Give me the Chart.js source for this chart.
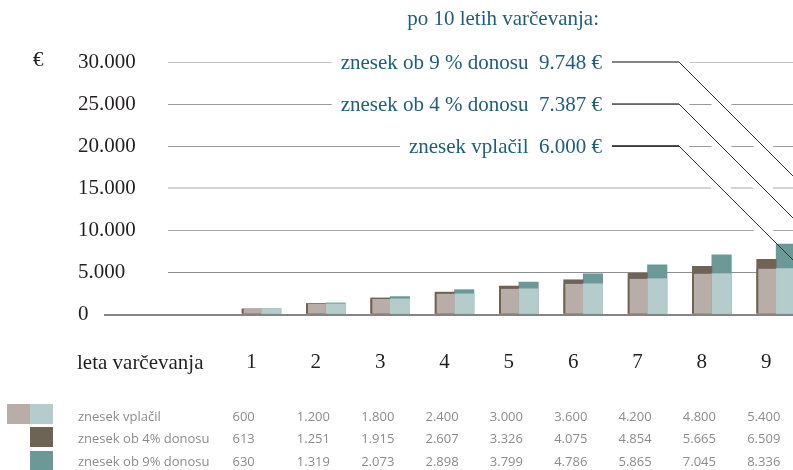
<!DOCTYPE html>
<html>
<head>
<meta charset="utf-8">
<script src="https://cdn.jsdelivr.net/npm/chart.js@4.4.0/dist/chart.umd.min.js"></script>
<style>
  html, body { margin: 0; padding: 0; background: #fff; overflow: hidden; }
  #wrap { position: relative; width: 900px; height: 470px; }
</style>
</head>
<body>
<div id="wrap"><canvas id="myChart"></canvas></div>
<script>
const years = [1, 2, 3, 4, 5, 6, 7, 8, 9, 10];
const paidIn = [600, 1200, 1800, 2400, 3000, 3600, 4200, 4800, 5400, 6000];
const at4 = [613, 1251, 1915, 2607, 3326, 4075, 4854, 5665, 6509, 7387];
const at9 = [630, 1319, 2073, 2898, 3799, 4786, 5865, 7045, 8336, 9748];
const yTicks = [0, 5000, 10000, 15000, 20000, 25000, 30000];
const seriesNames = ['znesek vplačil', 'znesek ob 4% donosu', 'znesek ob 9% donosu'];
const noteNames = ['znesek vplačil', 'znesek ob 4 % donosu', 'znesek ob 9 % donosu'];

const beige = '#b8aea7', paleTeal = '#b4cccc', brown = '#6f6356', teal = '#6a9998';
const ink = '#231f20', blue = '#1e6079', tableGrey = '#8c8c8c';
const serif = '"Liberation Serif", serif';

const gridColors = { 0: 'rgba(0,0,0,0)', 5000: '#8f8f8f', 10000: '#a3a3a3', 15000: '#d4d4d4',
  20000: '#999999', 25000: '#999999', 30000: '#c6c6c6' };

const fmt = v => String(v).replace(/\B(?=(\d{3})+(?!\d))/g, '.');

const last = years.length - 1;
// callouts: label sits on a gridline, line runs down to the year-10 bar
const notes = [
  { text: noteNames[2], value: at9[last], level: yTicks[6], seg: '#858585', segW: 2 },
  { text: noteNames[1], value: at4[last], level: yTicks[5], seg: '#555555', segW: 1.5 },
  { text: noteNames[0], value: paidIn[last], level: yTicks[4], seg: '#1a1a1a', segW: 1.5 }
];
const LABEL_RIGHT = 602, ELBOW = 679;

const extras = {
  id: 'extras',
  beforeDatasetsDraw(chart) {
    const ctx = chart.ctx, ys = chart.scales.y;
    ctx.save();
    ctx.strokeStyle = '#fff';
    ctx.lineWidth = 14;
    notes.forEach(n => {
      const y0 = ys.getPixelForValue(n.level), y1 = ys.getPixelForValue(n.value);
      ctx.beginPath();
      ctx.moveTo(ELBOW, y0);
      ctx.lineTo(ELBOW + (y1 - y0), y1);
      ctx.stroke();
    });
    ctx.restore();
  },
  afterDatasetsDraw(chart) {
    const ctx = chart.ctx, xs = chart.scales.x, ys = chart.scales.y;
    ctx.save();
    // zero line
    const y0 = Math.round(ys.getPixelForValue(0));
    ctx.strokeStyle = '#858585';
    ctx.lineWidth = 2;
    ctx.beginPath();
    ctx.moveTo(104, y0 + 1);
    ctx.lineTo(chart.chartArea.right, y0 + 1);
    ctx.stroke();

    // callouts
    ctx.font = '21px ' + serif;
    ctx.textBaseline = 'middle';
    ctx.textAlign = 'right';
    notes.forEach(n => {
      const ly = ys.getPixelForValue(n.level), vy = ys.getPixelForValue(n.value);
      const label = n.text + '  ' + fmt(n.value) + ' €';
      const w = ctx.measureText(label).width;
      ctx.fillStyle = '#fff';
      ctx.fillRect(LABEL_RIGHT - w - 9, ly - 12, w + 19, 24);
      ctx.fillStyle = blue;
      ctx.fillText(label, LABEL_RIGHT, ly + 1);
      ctx.strokeStyle = n.seg;
      ctx.lineWidth = n.segW;
      ctx.beginPath();
      ctx.moveTo(LABEL_RIGHT + 10, ly);
      ctx.lineTo(ELBOW, ly);
      ctx.stroke();
      ctx.strokeStyle = '#333';
      ctx.lineWidth = 1;
      ctx.beginPath();
      ctx.moveTo(ELBOW, ly);
      ctx.lineTo(ELBOW + (vy - ly), vy);
      ctx.stroke();
    });
    ctx.fillText('po ' + years[last] + ' letih varčevanja:', 599, 19);

    // left texts
    ctx.textAlign = 'left';
    ctx.fillStyle = ink;
    ctx.fillText('€', 33, 60);
    ctx.fillText('leta varčevanja', 77, 363);

    // table
    const rows = [paidIn, at4, at9];
    const rowY = [417, 439.5, 462];
    ctx.font = '13px "Open Sans", sans-serif';
    ctx.fillStyle = tableGrey;
    rows.forEach((row, r) => {
      ctx.fillText(seriesNames[r], 78, rowY[r]);
      row.forEach((v, i) => ctx.fillText(fmt(v), xs.getPixelForValue(years[i]) - 29, rowY[r]));
    });

    // swatches
    ctx.fillStyle = beige; ctx.fillRect(7, 404, 23, 20);
    ctx.fillStyle = paleTeal; ctx.fillRect(30, 404, 23, 20);
    ctx.fillStyle = brown; ctx.fillRect(30, 427, 23, 20);
    ctx.fillStyle = teal; ctx.fillRect(30, 451, 23, 20);
    ctx.restore();
  }
};

const data = {
  labels: years,
  datasets: [
    { label: seriesNames[0], data: paidIn, stack: 'left', backgroundColor: beige,
      borderColor: brown, borderWidth: { left: 2, top: 0, right: 0, bottom: 0 }, borderSkipped: false },
    { label: seriesNames[0], data: paidIn, stack: 'right', backgroundColor: paleTeal, borderWidth: 0 },
    { label: seriesNames[1], data: at4, stack: 'left', backgroundColor: brown, borderWidth: 0 },
    { label: seriesNames[2], data: at9, stack: 'right', backgroundColor: teal, borderWidth: 0 }
  ]
};

const config = {
  type: 'bar',
  data: data,
  plugins: [extras],
  options: {
    responsive: true,
    maintainAspectRatio: false,
    animation: false,
    barThickness: 19.5,
    layout: { padding: { left: 78, top: 62, right: 0, bottom: 0 } },
    plugins: {
      legend: { display: false },
      tooltip: { enabled: false }
    },
    scales: {
      x: {
        type: 'linear',
        min: -0.4535,
        max: 10.925,
        offset: false,
        stacked: true,
        grid: { display: false, drawTicks: false },
        border: { display: false },
        afterBuildTicks: s => { s.ticks = years.map(v => ({ value: v })); },
        afterFit: s => { s.height = 156; },
        ticks: {
          padding: 36,
          labelOffset: -10,
          autoSkip: false,
          maxRotation: 0,
          color: ink,
          font: { family: serif, size: 21 }
        }
      },
      y: {
        min: 0,
        max: 30000,
        stacked: false,
        border: { display: false },
        afterBuildTicks: s => { s.ticks = yTicks.map(v => ({ value: v })); },
        afterFit: s => { s.width = 90; },
        grid: {
          drawTicks: false,
          color: c => gridColors[c.tick.value],
          lineWidth: c => (c.tick.value === 15000 ? 2 : 1)
        },
        ticks: {
          crossAlign: 'far',
          color: ink,
          font: { family: serif, size: 21 },
          callback: v => fmt(v)
        }
      }
    }
  }
};

window.onload = function() {
  const ctx = document.getElementById('myChart').getContext('2d');
  const myChart = new Chart(ctx, config);
};
</script>
</body>
</html>
